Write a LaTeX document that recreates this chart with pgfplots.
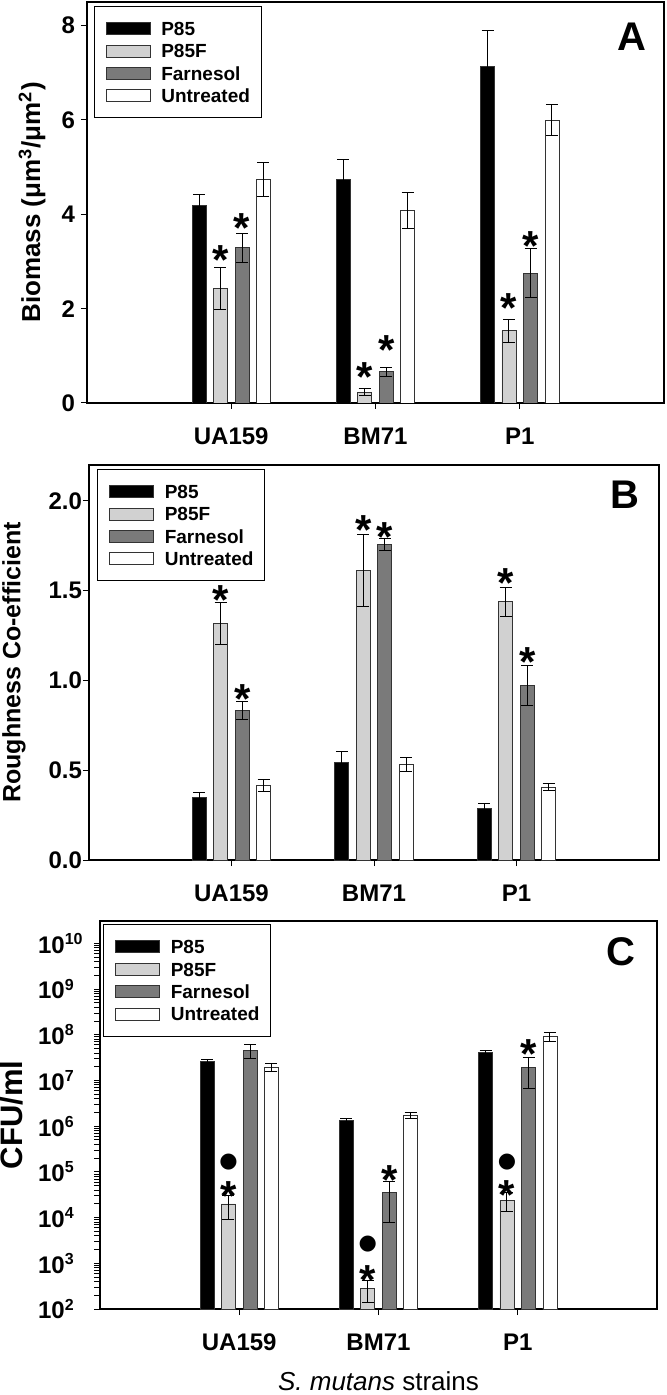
\documentclass[border=0pt]{standalone}
\usepackage{pgfplots}
\pgfplotsset{compat=1.18}
\usepackage{fontspec}
\setmainfont{Liberation Sans}
\newfontfamily\dejavu{DejaVu Sans}
\definecolor{lgray}{gray}{0.82}
\definecolor{dgray}{gray}{0.48}
\definecolor{edgec}{gray}{0.2}
\pgfplotsset{
  panel/.style={
    scale only axis,
    xmin=0, xmax=4,
    xtick={1,2,3},
    xticklabels={UA159,BM71,P1},
    tick pos=left,
    tick align=outside,
    major tick length=3pt,
    every tick/.style={black, line width=0.5pt},
    axis line style={black, line width=0.6pt},
    tick label style={font=\fontsize{12}{14}\selectfont\bfseries},
    xticklabel style={yshift=-6pt},
    ybar, bar width=7pt,
    legend cell align=left,
    legend style={anchor=north west, font=\fontsize{9.5}{10}\selectfont\bfseries,
      draw=black, line width=0.5pt, inner xsep=5.75pt, inner ysep=7.6pt,
      row sep=4.3pt, column sep=5.5pt,
      nodes={inner sep=0pt, text height=6.9pt, text depth=0pt}},
    error bars/y dir=both, error bars/y explicit,
    error bars/error bar style={black, line width=0.5pt},
    error bars/error mark options={rotate=90, black, line width=0.5pt, mark size=3pt},
  },
  bleg/.style={legend image code/.code={\draw[##1] (0pt,-3pt) rectangle (22pt,3pt);}},
  s1/.style={fill=black, draw=edgec, line width=0.4pt, bar shift=-16.1pt, bleg},
  s2/.style={fill=lgray, draw=edgec, line width=0.4pt, bar shift=-5.4pt, bleg},
  s3/.style={fill=dgray, draw=edgec, line width=0.4pt, bar shift=5.4pt, bleg},
  s4/.style={fill=white, draw=edgec, line width=0.4pt, bar shift=16.1pt, bleg},
}
\tikzset{
  ast/.style={font=\fontsize{21}{21}\selectfont\bfseries, anchor=base, inner sep=0pt, yshift=-11.8pt},
  dot/.style={font=\dejavu\fontsize{10.5}{10.5}\selectfont, anchor=center, inner sep=0pt},
  plabel/.style={font=\fontsize{20}{20}\selectfont\bfseries, anchor=center, inner sep=0pt},
}
\begin{document}
\begin{tikzpicture}
\useasboundingbox (0pt,0pt) rectangle (333pt,-697.5pt);
% ---------------- Panel A ----------------
\begin{axis}[panel, at={(43.5pt,-1pt)}, anchor=north west, width=288.5pt, height=200.5pt,
  ymin=0, ymax=8.5, ytick={0,2,4,6,8}, yticklabels={0,2,4,6,8},
  yticklabel style={font=\fontsize{12}{14}\selectfont\bfseries, xshift=0.5pt},
  ylabel={Biomass (μm\textsuperscript{3}/μm\textsuperscript{2})},
  ylabel style={at={(axis description cs:-0.0953,0.5)}, anchor=center, font=\fontsize{13}{15}\selectfont\bfseries},
  legend style={at={(axis description cs:0.0113,0.99)}},
]
\addplot[s1] coordinates {(1,4.19) +- (0,0.23) (2,4.73) +- (0,0.44) (3,7.13) +- (0,0.76)};
\addplot[s2] coordinates {(1,2.43) +- (0,0.45) (2,0.23) +- (0,0.07) (3,1.53) +- (0,0.25)};
\addplot[s3] coordinates {(1,3.29) +- (0,0.31) (2,0.66) +- (0,0.10) (3,2.75) +- (0,0.52)};
\addplot[s4] coordinates {(1,4.73) +- (0,0.36) (2,4.08) +- (0,0.38) (3,6.00) +- (0,0.33)};
\legend{P85,P85F,Farnesol,Untreated}
\node[ast, xshift=-5.4pt] at (axis cs:1,3.23) {*};
\node[ast, xshift=5.4pt] at (axis cs:1,3.91) {*};
\node[ast, xshift=-5.4pt] at (axis cs:2,0.74) {*};
\node[ast, xshift=5.4pt] at (axis cs:2,1.31) {*};
\node[ast, xshift=-5.4pt] at (axis cs:3,2.21) {*};
\node[ast, xshift=5.4pt] at (axis cs:3,3.53) {*};
\node[plabel, xshift=-16pt, yshift=-17.5pt] at (rel axis cs:1,1) {A};
\end{axis}
% ---------------- Panel B ----------------
\begin{axis}[panel, at={(44.5pt,-232.5pt)}, anchor=north west, width=285pt, height=197.5pt,
  ymin=0, ymax=2.2, ytick={0,0.5,1,1.5,2}, yticklabels={0.0,0.5,1.0,1.5,2.0},
  yticklabel style={xshift=3pt},
  ylabel={Roughness Co-efficient},
  ylabel style={at={(axis description cs:-0.1316,0.5)}, anchor=center, font=\fontsize{12.5}{15}\selectfont\bfseries},
  legend style={at={(axis description cs:0.014,0.99)}},
]
\addplot[s1] coordinates {(1,0.348) +- (0,0.030) (2,0.543) +- (0,0.062) (3,0.287) +- (0,0.029)};
\addplot[s2] coordinates {(1,1.317) +- (0,0.119) (2,1.613) +- (0,0.200) (3,1.438) +- (0,0.082)};
\addplot[s3] coordinates {(1,0.832) +- (0,0.050) (2,1.756) +- (0,0.034) (3,0.973) +- (0,0.112)};
\addplot[s4] coordinates {(1,0.415) +- (0,0.032) (2,0.532) +- (0,0.039) (3,0.407) +- (0,0.021)};
\legend{P85,P85F,Farnesol,Untreated}
\node[ast, xshift=-5.4pt] at (axis cs:1,1.498) {*};
\node[ast, xshift=5.4pt] at (axis cs:1,0.949) {*};
\node[ast, xshift=-5.4pt] at (axis cs:2,1.888) {*};
\node[ast, xshift=5.4pt] at (axis cs:2,1.851) {*};
\node[ast, xshift=-5.4pt] at (axis cs:3,1.591) {*};
\node[ast, xshift=5.4pt] at (axis cs:3,1.153) {*};
\node[plabel, xshift=-17pt, yshift=-15pt] at (rel axis cs:1,1) {B};
\end{axis}
% ---------------- Panel C ----------------
\begin{axis}[panel, at={(50pt,-460.5pt)}, anchor=north west, width=278.5pt, height=194pt,
  ymode=log, log origin=infty, ymin=100, ymax=3.1e10,
  ytick={1e2,1e3,1e4,1e5,1e6,1e7,1e8,1e9,1e10},
  yticklabels={10\textsuperscript{2},10\textsuperscript{3},10\textsuperscript{4},10\textsuperscript{5},10\textsuperscript{6},10\textsuperscript{7},10\textsuperscript{8},10\textsuperscript{9},10\textsuperscript{10}},
  yticklabel style={anchor=west, xshift=-31.5pt},
  ylabel={CFU/ml},
  ylabel style={at={(axis description cs:-0.158,0.5)}, anchor=center, font=\fontsize{15.5}{17}\selectfont\bfseries},
  xlabel={\textit{S. mutans} strains},
  xlabel style={at={(axis description cs:0.5,0)}, anchor=center, yshift=-36pt, font=\fontsize{13}{15}\selectfont},
  legend style={at={(axis description cs:0.0054,0.992)}},
]
\addplot[s1] coordinates {(1,2.66e7) +- (0,0.24e7) (2,1.35e6) +- (0,0.15e6) (3,4.17e7) +- (0,0.38e7)};
\addplot[s2] coordinates {(1,1.99e4) +- (0,1.08e4) (2,283) +- (0,147) (3,2.43e4) +- (0,1.07e4)};
\addplot[s3] coordinates {(1,4.55e7) +- (0,1.45e7) (2,3.5e4) +- (0,2.7e4) (3,1.97e7) +- (0,1.29e7)};
\addplot[s4] coordinates {(1,1.97e7) +- (0,0.43e7) (2,1.71e6) +- (0,0.24e6) (3,9.3e7) +- (0,2.1e7)};
\legend{P85,P85F,Farnesol,Untreated}
\node[ast, xshift=-5.4pt] at (axis cs:1,4.59e4) {*};
\node[dot, xshift=-5.4pt] at (axis cs:1,1.61e5) {●};
\node[ast, xshift=-5.4pt] at (axis cs:2,698) {*};
\node[dot, xshift=-5.4pt] at (axis cs:2,2.66e3) {●};
\node[ast, xshift=5.4pt] at (axis cs:2,1.06e5) {*};
\node[ast, xshift=-5.4pt] at (axis cs:3,4.99e4) {*};
\node[dot, xshift=-5.4pt] at (axis cs:3,1.61e5) {●};
\node[ast, xshift=5.4pt] at (axis cs:3,6.15e7) {*};
\node[plabel, xshift=-18pt, yshift=-15.5pt] at (rel axis cs:1,1) {C};
\end{axis}
\end{tikzpicture}
\end{document}
